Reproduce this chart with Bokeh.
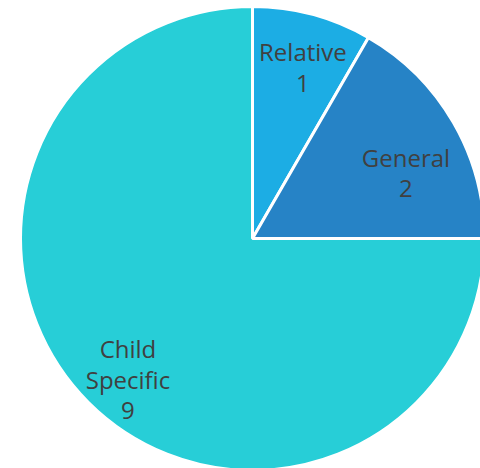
import math
from bokeh.plotting import figure
from bokeh.models import Range1d, ColumnDataSource
from bokeh.core.properties import value
from bokeh.embed import file_html
from bokeh.resources import INLINE

categories = ["Relative", "General", "Child Specific"]
values = [1, 2, 9]
colors = ["#1CADE4", "#2683C6", "#27CED7"]

# style: label placement (radius fraction, angle offset in degrees) per slice
label_r = [0.77, 0.72, 0.81]
label_da = [-1.4, -6.7, 3.5]

R = 232
total = sum(values)
starts, ends, lx, ly, texts = [], [], [], [], []
cum = 0
for i, v in enumerate(values):
    a0 = math.pi / 2 - 2 * math.pi * cum / total
    cum += v
    a1 = math.pi / 2 - 2 * math.pi * cum / total
    starts.append(a0)
    ends.append(a1)
    mid = (a0 + a1) / 2 + math.radians(label_da[i])
    lx.append(label_r[i] * R * math.cos(mid))
    ly.append(label_r[i] * R * math.sin(mid))
    texts.append(categories[i].replace(" ", "\n") + "\n" + str(v))

src = ColumnDataSource(dict(start=starts, end=ends, color=colors))
lsrc = ColumnDataSource(dict(x=lx, y=ly, t=texts))

p = figure(width=480, height=468, output_backend="svg", toolbar_location=None,
           x_range=Range1d(-252, 228), y_range=Range1d(-230, 238),
           min_border=0, outline_line_color=None)
p.axis.visible = False
p.grid.visible = False
p.background_fill_color = "white"
p.border_fill_color = "white"

p.wedge(x=0, y=0, radius=R, start_angle="start", end_angle="end",
        direction="clock", fill_color="color", line_color="white",
        line_width=3, source=src)

p.text(x="x", y="y", text="t", source=lsrc, text_align="center",
       text_baseline="middle", text_font=value("Open Sans"),
       text_font_size="24px", text_color="#404040", text_line_height=0.92)

open("out.html", "w").write(file_html(p, INLINE))
